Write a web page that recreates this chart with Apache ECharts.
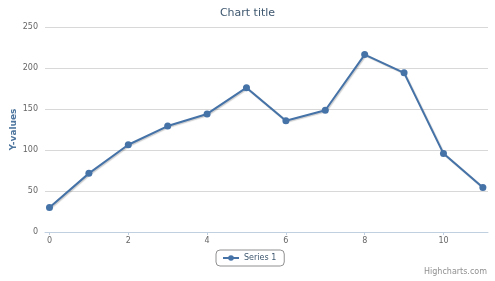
<!DOCTYPE html>
<html><head><meta charset="utf-8">
<script src="https://cdn.jsdelivr.net/npm/echarts@6/dist/echarts.min.js"></script>
<style>html,body{margin:0;padding:0;background:#fff}#c{width:495px;height:281px}</style>
</head><body><div id="c"></div>
<script>
const xValues = [0,1,2,3,4,5,6,7,8,9,10,11];
const seriesValues = [29.9,71.5,106.4,129.2,144.0,176.0,135.6,148.5,216.4,194.1,95.6,54.4];
const xTickLabels = [0,2,4,6,8,10];
const yTickLabels = [0,50,100,150,200,250];
const seriesName = 'Series 1';
const chartTitle = 'Chart title';
const yTitle = 'Y-values';

const font = '"Lucida Grande","DejaVu Sans",Verdana,sans-serif';
const chart = echarts.init(document.getElementById('c'));
chart.setOption({
  animation: false,
  title: {text: chartTitle, left: 'center', top: 3,
    textStyle: {fontSize: 11, fontWeight: 'normal', color: '#3E576F', fontFamily: font}},
  grid: {left: 45, right: 7, top: 27, bottom: 49, containLabel: false, outerBoundsMode: 'none'},
  xAxis: {type: 'value', min: -0.114, max: 11.13,
    axisLine: {lineStyle: {color: '#C0D0E0', width: 1}},
    axisTick: {show: true, length: 3, lineStyle: {color: '#C0D0E0'}, customValues: xTickLabels},
    splitLine: {show: false},
    axisLabel: {customValues: xTickLabels, color: '#666', fontSize: 8, margin: 5, fontFamily: font}},
  yAxis: {type: 'value', min: 0, max: 250, interval: 50,
    name: yTitle, nameLocation: 'middle', nameGap: 27, nameMoveOverlap: false,
    nameTextStyle: {color: '#4d759e', fontWeight: 'bold', fontSize: 9, fontFamily: font},
    axisLine: {show: false}, axisTick: {show: false},
    splitLine: {lineStyle: {color: '#D8D8D8', width: 1}},
    axisLabel: {color: '#666', fontSize: 8, margin: 7, fontFamily: font}},
  legend: {left: 216, top: 250, width: 67, height: 18, padding: [4, 8, 4, 6],
    borderColor: '#909090', borderWidth: 1, borderRadius: 4,
    itemWidth: 16, itemHeight: 7, itemGap: 4,
    textStyle: {color: '#3E576F', fontSize: 8, fontFamily: font},
    data: [seriesName]},
  graphic: [{type: 'text', right: 8, bottom: 5,
    style: {text: 'Highcharts.com', fill: '#909090', fontSize: 8, fontFamily: font}}],
  series: [{name: seriesName, type: 'line',
    data: xValues.map((x, i) => [x, seriesValues[i]]),
    symbol: 'circle', symbolSize: 7,
    itemStyle: {color: '#4572A7'},
    lineStyle: {color: '#4572A7', width: 2, shadowColor: 'rgba(0,0,0,0.2)', shadowOffsetX: 1, shadowOffsetY: 1, shadowBlur: 1}}]
});
</script></body></html>
